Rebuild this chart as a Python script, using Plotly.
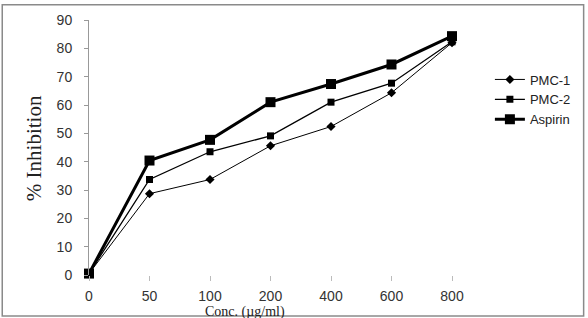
import plotly.graph_objects as go

conc = ["0", "50", "100", "200", "400", "600", "800"]
pmc1 = [0.5, 28.7, 33.7, 45.6, 52.4, 64.3, 82.0]
pmc2 = [0.5, 33.7, 43.5, 49.1, 61.0, 67.7, 82.3]
aspirin = [0.5, 40.4, 47.7, 61.0, 67.4, 74.3, 84.3]

W, H = 588, 318
L, R, T, B = 89, 135, 17, 43
pw, ph = W - L - R, H - T - B

def px(x):
    return (x - L) / pw

def py(y):
    return (H - B - y) / ph

fig = go.Figure()
fig.add_trace(go.Scatter(x=conc, y=pmc1, name="PMC-1", mode="lines+markers",
                         line=dict(color="black", width=1),
                         marker=dict(symbol="diamond", size=7, color="black"),
                         cliponaxis=False))
fig.add_trace(go.Scatter(x=conc, y=pmc2, name="PMC-2", mode="lines+markers",
                         line=dict(color="black", width=1.3),
                         marker=dict(symbol="square", size=7, color="black"),
                         cliponaxis=False))
fig.add_trace(go.Scatter(x=conc, y=aspirin, name="Aspirin", mode="lines+markers",
                         line=dict(color="black", width=3),
                         marker=dict(symbol="square", size=10, color="black"),
                         cliponaxis=False))

fig.update_layout(
    width=W, height=H,
    margin=dict(l=L, r=R, t=T, b=B),
    paper_bgcolor="white", plot_bgcolor="white",
    showlegend=True,
    legend=dict(x=px(491), y=py(62), xanchor="left", yanchor="top",
                font=dict(family="Liberation Sans", size=13, color="#222"),
                bgcolor="rgba(0,0,0,0)", tracegroupgap=0),
    xaxis=dict(type="category", range=[0, 6], showgrid=False, zeroline=False,
               showline=False, ticks="outside", ticklen=5, tickcolor="#bbbbbb",
               tickfont=dict(family="Liberation Sans", size=14, color="#333"),
               ticklabelstandoff=3),
    yaxis=dict(range=[0, 90], dtick=10, showgrid=False, zeroline=False,
               showline=True, linecolor="#999999", linewidth=1,
               ticks="outside", ticklen=4, tickcolor="#999999",
               tickfont=dict(family="Liberation Sans", size=14, color="#333"),
               ticklabelstandoff=9),
    annotations=[
        dict(text="Conc. (µg/ml)", x=px(245), y=py(312.5), xref="paper", yref="paper",
             xanchor="center", yanchor="middle",
             showarrow=False, font=dict(family="Liberation Serif", size=14, color="#222")),
        dict(text="% Inhibition", x=px(34), y=py(146.5), xref="paper", yref="paper",
             xanchor="center", yanchor="middle",
             showarrow=False, textangle=-90,
             font=dict(family="Liberation Serif", size=21, color="#222")),
    ],
    shapes=[
        dict(type="rect", xref="paper", yref="paper",
             x0=px(2), x1=px(585), y0=py(316.5), y1=py(1.5),
             line=dict(color="#8a8a8a", width=1.5), fillcolor="rgba(0,0,0,0)"),
    ],
)

fig.write_html("out.html")
